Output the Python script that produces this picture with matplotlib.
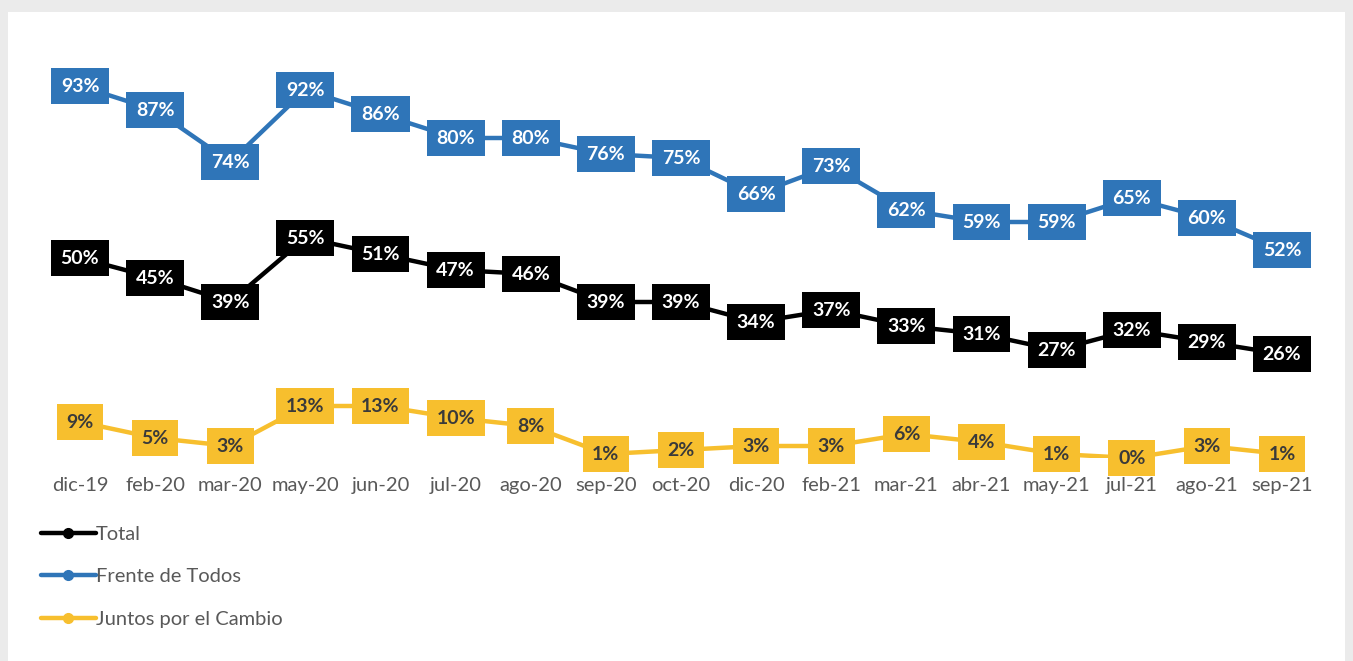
import matplotlib.pyplot as plt
from matplotlib.patches import Rectangle

# Data
meses = ['dic-19', 'feb-20', 'mar-20', 'may-20', 'jun-20', 'jul-20', 'ago-20', 'sep-20',
         'oct-20', 'dic-20', 'feb-21', 'mar-21', 'abr-21', 'may-21', 'jul-21', 'ago-21', 'sep-21']
total = [50, 45, 39, 55, 51, 47, 46, 39, 39, 34, 37, 33, 31, 27, 32, 29, 26]
frente = [93, 87, 74, 92, 86, 80, 80, 76, 75, 66, 73, 62, 59, 59, 65, 60, 52]
juntos = [9, 5, 3, 13, 13, 10, 8, 1, 2, 3, 3, 6, 4, 1, 0, 3, 1]

series = [
    ('Total', total, '#000000', 'white'),
    ('Frente de Todos', frente, '#2F75B8', 'white'),
    ('Juntos por el Cambio', juntos, '#F7BF2E', '#3a3a3a'),
]

plt.rcParams['font.family'] = ['Lato', 'DejaVu Sans']

W, H = 1353, 661
fig = plt.figure(figsize=(W / 100, H / 100), dpi=100)
fig.patch.set_facecolor('#ebebeb')
fig.patches.append(Rectangle((8 / W, 0), (W - 16) / W, (H - 12) / H,
                             transform=fig.transFigure, facecolor='white',
                             edgecolor='none', zorder=-5))

# axes placed so that x-step and y-scale match the reference
s = (1282 - 80) / 16
x0 = 80 - 0.6 * s
x1 = 1282 + 0.6 * s
ax = fig.add_axes([x0 / W, (H - 458) / H, (x1 - x0) / W, 400 / H])
ax.set_zorder(2)
ax.set_xlim(-0.6, 16.6)
ax.set_ylim(0, 100)
ax.patch.set_alpha(0)
for sp in ax.spines.values():
    sp.set_visible(False)
ax.set_yticks([])
xs = list(range(len(meses)))
ax.set_xticks(xs)
ax.set_xticklabels(meses, fontsize=14.5, color='#595959')
ax.tick_params(axis='x', length=0, pad=14)

handles = []
for name, vals, col, tcol in series:
    h, = ax.plot(xs, vals, color=col, lw=3.2, marker='o', markersize=7,
                 solid_capstyle='round', zorder=2, label=name)
    handles.append(h)
    for x, v in zip(xs, vals):
        ax.text(x, v, f'{v}%', ha='center', va='center', fontsize=14,
                fontweight='bold', color=tcol, zorder=3,
                bbox=dict(boxstyle='square,pad=0.5', facecolor=col, edgecolor='none'))

leg = fig.legend(handles, [h.get_label() for h in handles], loc='upper left',
                 bbox_to_anchor=(23 / W, (H - 508) / H), frameon=False,
                 fontsize=14.5, labelcolor='#595959', handlelength=2.7,
                 handletextpad=0.0, labelspacing=1.25, markerscale=1.0)
leg.set_zorder(3)

fig.savefig('out.png', dpi=100)
